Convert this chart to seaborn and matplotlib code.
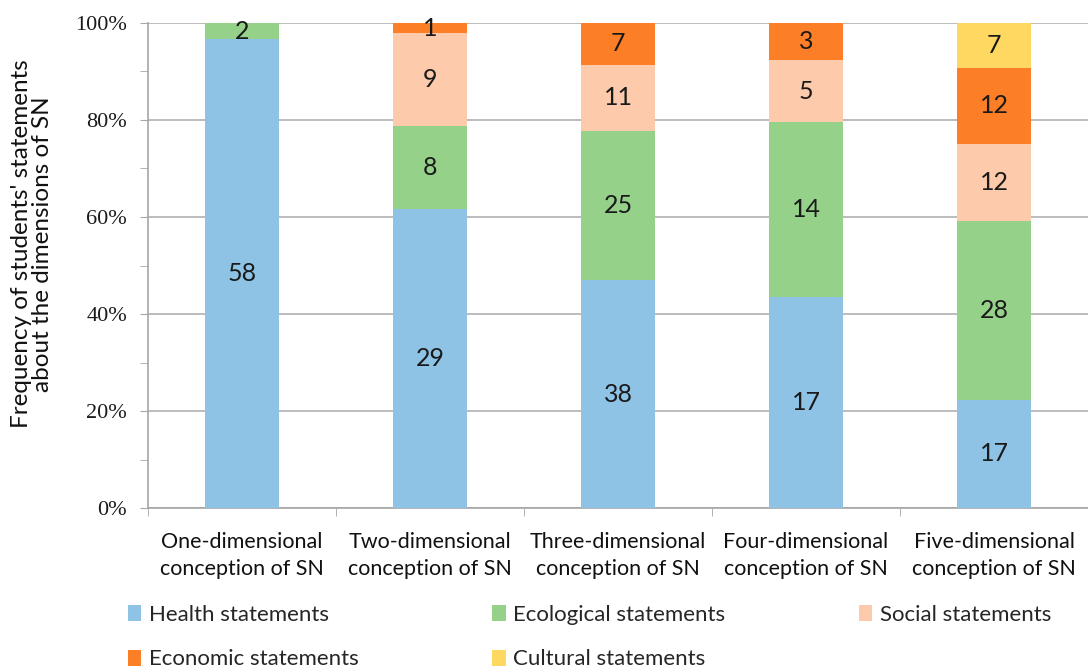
import numpy as np
import pandas as pd
import matplotlib
matplotlib.use("Agg")
import matplotlib.pyplot as plt
import seaborn as sns
from matplotlib.patches import Patch
from matplotlib.ticker import MultipleLocator, FixedLocator

categories = ["One-dimensional\nconception of SN", "Two-dimensional\nconception of SN",
              "Three-dimensional\nconception of SN", "Four-dimensional\nconception of SN",
              "Five-dimensional\nconception of SN"]
series_names = ["Health statements", "Ecological statements", "Social statements",
                "Economic statements", "Cultural statements"]
health = [58, 29, 38, 17, 17]
ecological = [2, 8, 25, 14, 28]
social = [0, 9, 11, 5, 12]
economic = [0, 1, 7, 3, 12]
cultural = [0, 0, 0, 0, 7]
colors = ["#8EC3E6", "#96D18A", "#FDCAAB", "#FC7F28", "#FFD862"]
ytick_labels = ["0%", "20%", "40%", "60%", "80%", "100%"]
y_title_lines = ["Frequency of students' statements", "about the dimensions of SN"]

sns.set_style("white")
plt.rcParams['font.family'] = ['Lato', 'DejaVu Sans']

counts = np.array([health, ecological, social, economic, cultural], dtype=float)
totals = counts.sum(axis=0)
shares = counts / totals * 100
cum = np.cumsum(shares, axis=0)

fig = plt.figure(figsize=(10.88, 6.70), dpi=100)
ax = fig.add_axes([148/1088, 1 - 508/670, 1 - 148/1088, (508 - 23)/670])

# draw stacked bars: largest cumulative first
for i in range(len(series_names) - 1, -1, -1):
    df = pd.DataFrame({"cat": categories, "val": cum[i]})
    sns.barplot(data=df, x="cat", y="val", color=colors[i], width=0.395,
                saturation=1, ax=ax, zorder=3, linewidth=0)

# data labels
for i in range(len(series_names)):
    for j in range(len(categories)):
        if counts[i, j] > 0:
            ymid = cum[i, j] - shares[i, j] / 2
            ax.text(j, ymid, f"{int(counts[i, j])}", ha="center", va="center",
                    fontsize=18, color="#1a1a1a", zorder=5)

ax.set_xlim(-0.5, 4.5)
ax.set_ylim(0, 100)
ax.set_yticks(np.arange(0, 101, 20))
ax.set_yticklabels(ytick_labels, family="Liberation Serif", fontsize=16, color="#1a1a1a")
ax.yaxis.set_minor_locator(MultipleLocator(10))
ax.tick_params(axis="y", which="both", direction="out", length=6, color="#A6A6A6",
               left=True, pad=9)
ax.grid(axis="y", color="#B0B0B0", linewidth=1.2, zorder=0)
ax.set_axisbelow(True)

ax.set_xticks(range(len(categories)))
ax.set_xticklabels(categories, fontsize=15.5, color="#111111", linespacing=1.45)
ax.xaxis.set_minor_locator(FixedLocator(np.arange(-0.5, 4.6, 1)))
ax.tick_params(axis="x", which="major", length=0, pad=17)
ax.tick_params(axis="x", which="minor", direction="out", length=6, color="#A6A6A6", bottom=True)
ax.set_xlabel("")
ax.set_ylabel("")
for k, (xp, line) in enumerate(zip([22, 43], y_title_lines)):
    fig.text(xp/1088, 1 - 244/670, line, rotation=90, ha="center", va="center",
             fontsize=17.5, color="#111111")

for s in ["top", "right"]:
    ax.spines[s].set_visible(False)
for s in ["left", "bottom"]:
    ax.spines[s].set_color("#A6A6A6")
    ax.spines[s].set_linewidth(1.2)

# legend filled column-wise -> order so rows read Health, Ecological, Social / Economic, Cultural
order = [0, 3, 1, 4, 2]
handles = [Patch(facecolor=colors[k], edgecolor="none") for k in order]
labels = [series_names[k] for k in order]
fig.legend(handles, labels, ncol=3, loc="upper left",
           bbox_to_anchor=(108/1088, 1 - 585/670), frameon=False,
           fontsize=16, handlelength=0.6, handleheight=0.75, handletextpad=0.35,
           columnspacing=6.0, labelspacing=1.1, labelcolor="#262626")

fig.savefig("out.png", dpi=100)
